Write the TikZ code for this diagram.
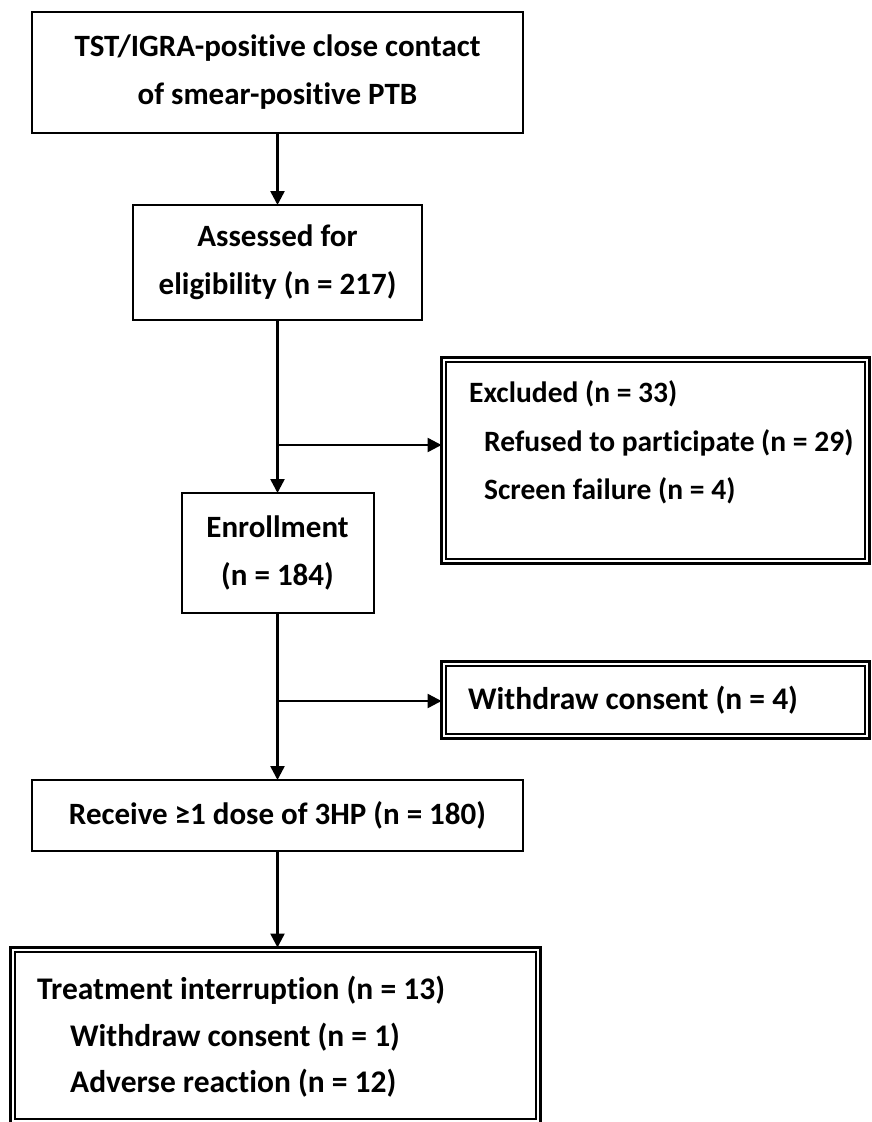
\documentclass[tikz,border=0pt]{standalone}
\usepackage{fontspec}
\setmainfont{Carlito}[Ligatures=NoCommon]
\usetikzlibrary{arrows.meta}
\begin{document}
\begin{tikzpicture}[x=1pt,y=-1pt,
  box/.style={draw, line width=2pt, inner sep=0pt, outer sep=0pt, align=center,
    font=\bfseries\fontsize{31}{48}\selectfont},
  dbox/.style={draw, line width=3pt, inner sep=0pt, outer sep=0pt},
  innerline/.style={line width=1.8pt},
  txt/.style={inner sep=0pt, anchor=west, font=\bfseries\fontsize{31.5}{38}\selectfont},
  smalltxt/.style={txt, font=\bfseries\fontsize{29.5}{36}\selectfont},
  arr/.style={line width=2.5pt, -{Triangle[length=14pt,width=14pt]}},
  ln/.style={line width=2.5pt}]
\useasboundingbox (0,0) rectangle (872,1122);

% main column
\node[box, minimum width=491pt, minimum height=121pt] (contact) at (277.5,72.5)
  {TST/IGRA-positive close contact\\of smear-positive PTB};
\node[box, minimum width=289pt, minimum height=115pt] (assess) at (277.5,262.5)
  {Assessed for\\eligibility (n = 217)};
\node[box, minimum width=192pt, minimum height=120pt] (enrol) at (277.5,553)
  {Enrollment\\(n = 184)};
\node[box, minimum width=491pt, minimum height=71pt] (dose) at (277.5,815.5)
  {Receive ≥1 dose of 3HP (n = 180)};

% side boxes with a double frame
\node[dbox, minimum width=428pt, minimum height=206pt] (excl) at (655.5,460.5) {};
\draw[innerline] ([shift={(4.5,4.5)}]excl.north west) rectangle ([shift={(-4.5,-4.5)}]excl.south east);
\node[smalltxt] (exclA) at (469,394) {Excluded (n = 33)};
\node[smalltxt] (exclB) at (484,443) {Refused to participate (n = 29)};
\node[smalltxt] (exclC) at (484,491) {Screen failure (n = 4)};

\node[dbox, minimum width=428pt, minimum height=77pt] (wd) at (655.5,700) {};
\draw[innerline] ([shift={(4.5,4.5)}]wd.north west) rectangle ([shift={(-4.5,-4.5)}]wd.south east);
\node[txt] (wdA) at (468,700) {Withdraw consent (n = 4)};

\node[dbox, minimum width=530pt, minimum height=176pt] (intr) at (275.5,1035.5) {};
\draw[innerline] ([shift={(4.5,4.5)}]intr.north west) rectangle ([shift={(-4.5,-4.5)}]intr.south east);
\node[txt] (intrA) at (37,990) {Treatment interruption (n = 13)};
\node[txt] (intrB) at (70,1037) {Withdraw consent (n = 1)};
\node[txt] (intrC) at (70,1083) {Adverse reaction (n = 12)};

% connectors
\coordinate (b1) at (277.5,445);
\coordinate (b2) at (277.5,701);
\draw[arr] (contact.south) -- (assess.north);
\draw[arr] (assess.south) -- (enrol.north);
\draw[arr] (b1) -- (b1 -| excl.west);
\draw[arr] (enrol.south) -- (dose.north);
\draw[arr] (b2) -- (b2 -| wd.west);
\draw[arr] (dose.south) -- (dose.south |- intr.north);
\end{tikzpicture}
\end{document}
